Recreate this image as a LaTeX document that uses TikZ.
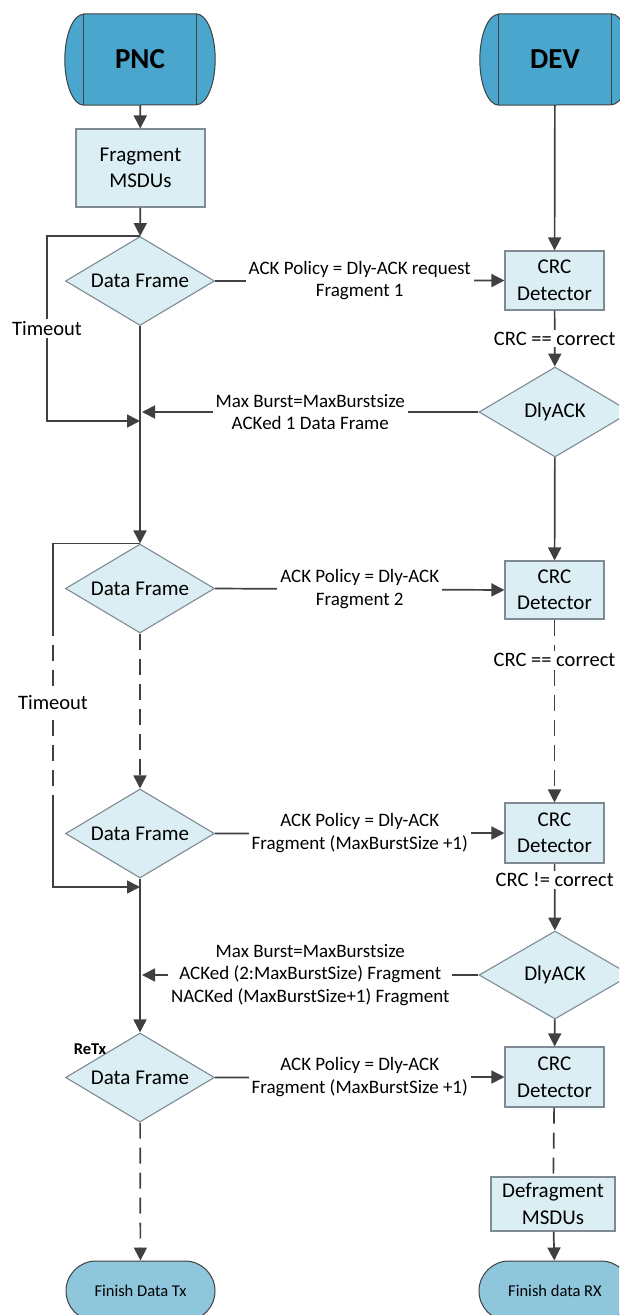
\documentclass[tikz,border=0pt]{standalone}
\usepackage{fontspec}
\setmainfont{Carlito}
\usetikzlibrary{arrows.meta,shapes.geometric,calc}
\pgfdeclarelayer{background}
\pgfsetlayers{background,main}

\definecolor{hdrblue}{HTML}{4AA6CC}
\definecolor{boxblue}{HTML}{DAEEF3}
\definecolor{endblue}{HTML}{8EC6DC}
\definecolor{boxedge}{HTML}{7F8A95}
\definecolor{wire}{HTML}{404040}

\begin{document}
\begin{tikzpicture}[x=1pt,y=-1pt,
  nodetext/.style={font=\fontsize{21}{26.5}\selectfont, align=center, text=black},
  header/.style={minimum width=112pt, minimum height=91pt, inner sep=0pt,
    font=\bfseries\fontsize{29}{34}\selectfont},
  procbox/.style={nodetext, rectangle, draw=boxedge, fill=boxblue, line width=1.1pt, inner sep=0pt},
  decision/.style={nodetext, diamond, aspect=1.67, draw=boxedge, fill=boxblue, line width=1.1pt,
    inner sep=0pt, minimum width=149pt, minimum height=89pt},
  terminal/.style={rectangle, rounded corners=30pt, draw=wire, fill=endblue, line width=1pt,
    minimum height=60pt, inner sep=0pt, font=\fontsize{16.5}{20}\selectfont},
  conn/.style={draw=wire, line width=1.7pt},
  arr/.style={-{Triangle[length=13pt,width=13pt]}},
  brokenline/.style={dash pattern=on 16pt off 9pt},
  lbl/.style={fill=white, inner xsep=3pt, inner ysep=2pt, align=center,
    font=\fontsize{19}{22.5}\selectfont, text=black},
  biglbl/.style={lbl, font=\fontsize{20.5}{24}\selectfont},
]
\useasboundingbox (0,0) rectangle (619,1315);
\clip (0,0) rectangle (619,1315);

% ---- column heads ----
\node[header] (pnc) at (140,59.5) {PNC};
\node[header] (dev) at (555,59.5) {DEV};
\begin{pgfonlayer}{background}
  \foreach \h in {pnc,dev} {
    \draw[draw=wire, fill=hdrblue, line width=1pt]
      (\h.north west) -- (\h.north east)
      arc[start angle=90, end angle=-90, x radius=19pt, y radius=45.5pt]
      -- (\h.south west)
      arc[start angle=270, end angle=90, x radius=19pt, y radius=45.5pt] -- cycle;
    \draw[draw=wire, line width=1pt] (\h.north west) -- (\h.south west)
      (\h.north east) -- (\h.south east);
  }
\end{pgfonlayer}

% ---- PNC column ----
\node[procbox, minimum width=129pt, minimum height=78pt] (frag) at (140.5,168) {Fragment\\MSDUs};
\node[decision] (d1) at (140,281) {Data Frame};
\node[decision] (d2) at (140,588.5) {Data Frame};
\node[decision] (d3) at (140,833.5) {Data Frame};
\node[decision] (d4) at (140,1077.5) {Data Frame};
\node[terminal, minimum width=149pt] (fintx) at (140.5,1291) {Finish Data Tx};
\node[font=\bfseries\fontsize{16.5}{20}\selectfont, inner sep=0pt] (retx) at (90,1049) {ReTx};

% ---- DEV column ----
\node[procbox, minimum width=99pt, minimum height=59pt] (crc1) at (554.5,280.5) {CRC\\Detector};
\node[decision, minimum width=152pt, minimum height=90pt, aspect=1.69] (ack1) at (555,412) {DlyACK};
\node[procbox, minimum width=99pt, minimum height=58pt] (crc2) at (554.5,590) {CRC\\Detector};
\node[procbox, minimum width=99pt, minimum height=60pt] (crc3) at (554.5,833) {CRC\\Detector};
\node[decision, minimum width=152pt, minimum height=88pt, aspect=1.72] (ack2) at (555,975) {DlyACK};
\node[procbox, minimum width=99pt, minimum height=60pt] (crc4) at (554.5,1077) {CRC\\Detector};
\node[procbox, minimum width=124pt, minimum height=54pt] (defrag) at (553,1204) {Defragment\\MSDUs};
\node[terminal, minimum width=152pt] (finrx) at (555,1291) {Finish data RX};

% ---- free ends on the PNC line ----
\coordinate (back1) at (142,412);
\coordinate (back2) at (142,975);
\coordinate (join1) at (140,421);
\coordinate (join2) at (140,887);
\coordinate (loop1) at (47,421);
\coordinate (loop2a) at (53,620);
\coordinate (loop2b) at (53,803);
\coordinate (loop2c) at (53,887);

% ---- PNC flow ----
\draw[conn, arr] (pnc) -- (frag);
\draw[conn, arr] (frag) -- (d1);
\draw[conn, arr] (d1) -- (d2);
\draw[conn, arr, brokenline] (d2) -- (d3);
\draw[conn, arr] (d3) -- (d4);
\draw[conn, arr, brokenline] (d4) -- (fintx);

% ---- timeout loops ----
\draw[conn, arr] (d1.north) -| (loop1) node[pos=0.75, biglbl] {Timeout} -- (join1);
\draw[conn] (d2.north) -| (loop2a);
\draw[conn, brokenline] (loop2a) -- (loop2b) node[pos=0.45, biglbl] {Timeout};
\draw[conn, arr] (loop2b) -- (loop2c) -- (join2);

% ---- DEV flow ----
\draw[conn, arr] (dev) -- (crc1);
\draw[conn, arr] (crc1) -- (ack1) node[midway, biglbl] {CRC == correct};
\draw[conn, arr] (ack1) -- (crc2);
\draw[conn, arr, brokenline] (crc2) -- (crc3) node[pos=0.22, biglbl] {CRC == correct};
\draw[conn, arr] (crc3) -- (ack2) node[pos=0.24, biglbl] {CRC != correct};
\draw[conn, arr] (ack2) -- (crc4);
\draw[conn, brokenline] (crc4) -- (defrag);
\draw[conn, arr] (defrag) -- (finrx);

% ---- frames sent ----
\draw[conn, arr] (d1.east) -- (crc1.west) node[midway, lbl] {ACK Policy = Dly-ACK request\\Fragment 1};
\draw[conn, arr] (d2.east) -- (crc2.west) node[midway, lbl] {ACK Policy = Dly-ACK\\Fragment 2};
\draw[conn, arr] (d3.east) -- (crc3.west) node[midway, lbl] {ACK Policy = Dly-ACK\\Fragment (MaxBurstSize +1)};
\draw[conn, arr] (d4.east) -- (crc4.west) node[midway, lbl] {ACK Policy = Dly-ACK\\Fragment (MaxBurstSize +1)};

% ---- acknowledgements ----
\draw[conn, arr] (ack1.west) -- (back1) node[midway, lbl] {Max Burst=MaxBurstsize\\ACKed 1 Data Frame};
\draw[conn, arr] (ack2.west) -- (back2) node[midway, lbl] {Max Burst=MaxBurstsize\\ACKed (2:MaxBurstSize) Fragment\\NACKed (MaxBurstSize+1) Fragment};
\end{tikzpicture}
\end{document}
